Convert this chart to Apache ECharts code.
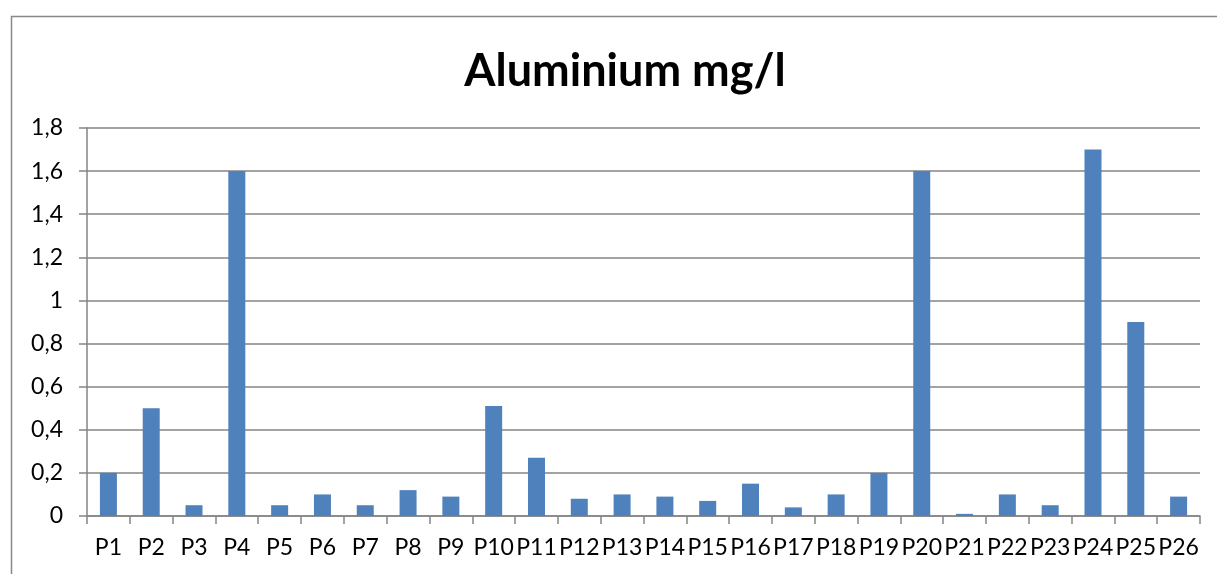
<!DOCTYPE html>
<html>
<head>
<meta charset="utf-8">
<script src="https://cdn.jsdelivr.net/npm/echarts@6/dist/echarts.min.js"></script>
<style>
  html, body { margin: 0; padding: 0; background: #fff; }
  #chart { width: 1217px; height: 574px; }
</style>
</head>
<body>
<div id="chart"></div>
<script>
// Sampling points
const categories = ['P1','P2','P3','P4','P5','P6','P7','P8','P9','P10','P11','P12','P13',
  'P14','P15','P16','P17','P18','P19','P20','P21','P22','P23','P24','P25','P26'];

// Aluminium concentration, mg/l
const aluminium = [0.20, 0.50, 0.05, 1.60, 0.05, 0.10, 0.05, 0.12, 0.09, 0.51, 0.27, 0.08, 0.10,
  0.09, 0.07, 0.15, 0.04, 0.10, 0.20, 1.60, 0.01, 0.10, 0.05, 1.70, 0.90, 0.09];

const yMin = 0, yMax = 1.8, yStep = 0.2;

const chart = echarts.init(document.getElementById('chart'), null, { renderer: 'canvas' });
const font = 'Lato, "Open Sans", sans-serif';
const gray = '#858585';

chart.setOption({
  animation: false,
  backgroundColor: '#ffffff',
  title: {
    text: 'Aluminium mg/l',
    left: 620,
    top: 44,
    textAlign: 'center',
    textStyle: { fontFamily: font, fontWeight: 'bold', fontSize: 45, color: '#000' }
  },
  graphic: [{
    type: 'rect',
    shape: { x: 11.5, y: 16.5, width: 1300, height: 700 },
    style: { fill: 'none', stroke: '#888', lineWidth: 1.5 },
    silent: true
  }],
  grid: { left: 87, right: 17, top: 128, bottom: 58, containLabel: false },
  xAxis: {
    type: 'category',
    data: categories,
    axisLine: { lineStyle: { color: gray, width: 1.5 } },
    axisTick: { show: true, length: 8, lineStyle: { color: gray, width: 1.5 } },
    axisLabel: { interval: 0, margin: 20, fontFamily: font, fontSize: 23, color: '#000' }
  },
  yAxis: {
    type: 'value',
    min: yMin, max: yMax, interval: yStep,
    axisLine: { show: true, lineStyle: { color: gray, width: 1.5 } },
    axisTick: { show: true, length: 8, lineStyle: { color: gray, width: 1.5 } },
    splitLine: { lineStyle: { color: gray, width: 1.5 } },
    axisLabel: {
      margin: 24, fontFamily: font, fontSize: 23, color: '#000',
      formatter: v => String(Math.round(v * 10) / 10).replace('.', ',')
    }
  },
  series: [{
    type: 'bar',
    data: aluminium,
    barWidth: 17,
    itemStyle: { color: '#4F81BD' }
  }]
});
</script>
</body>
</html>
